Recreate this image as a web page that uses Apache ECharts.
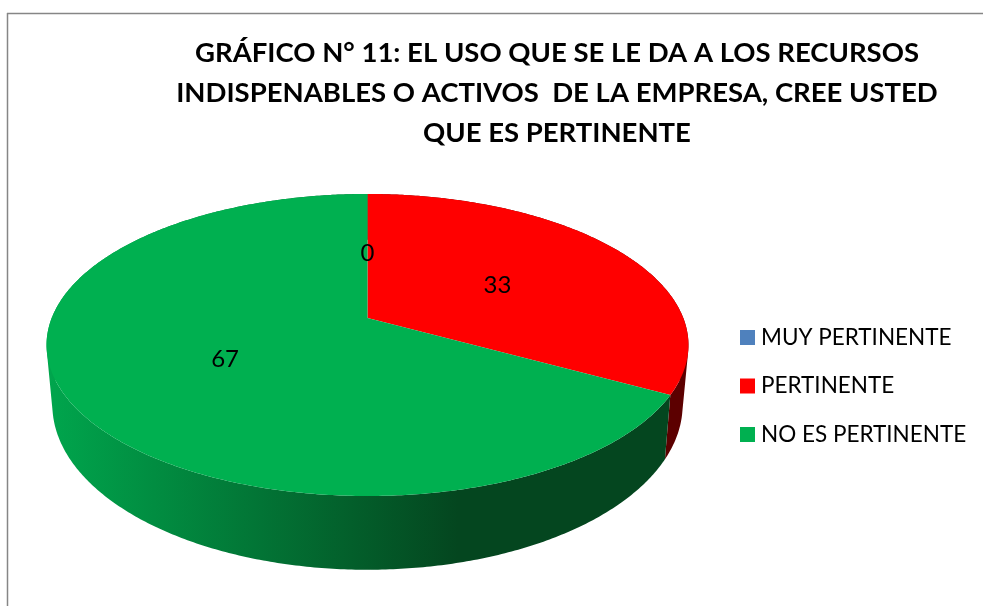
<!DOCTYPE html>
<html>
<head>
<meta charset="utf-8">
<title>Gráfico 11</title>
<style>
  html, body { margin: 0; padding: 0; background: #fff; }
  #chart { width: 983px; height: 606px; }
</style>
<script src="https://cdn.jsdelivr.net/npm/echarts@6/dist/echarts.min.js"></script>
</head>
<body>
<div id="chart"></div>
<script>
  var chartTitle = 'GRÁFICO N° 11: EL USO QUE SE LE DA A LOS RECURSOS\nINDISPENABLES O ACTIVOS  DE LA EMPRESA, CREE USTED\nQUE ES PERTINENTE';
  var categories = ['MUY PERTINENTE', 'PERTINENTE', 'NO ES PERTINENTE'];
  var values = [0, 33, 67];
  var colors = ['#4f81bd', '#ff0000', '#00b050'];
  // wall shading, left to right
  var wallColors = [
    ['#3a6190', '#24405f'],
    ['#660000', '#5c0000'],
    ['#00a64d', '#04461f']
  ];

  // the pie is drawn in perspective, so a rim point is not just a scaled circle
  var topDisc = { x: 367.5, y: 318, rx: 315.8, ry: 146.2, p: 0.1788 };
  var lowDisc = { x: 367.5, y: 375, rx: 310, ry: 159.7, p: 0.18 };
  var total = values.reduce(function (a, b) { return a + b; }, 0);

  function project(disc, angle, r) {
    var u = Math.sin(angle) * r;
    var v = Math.cos(angle) * r;
    var w = 1 + disc.p * v;
    return [disc.x + disc.rx * u / w, disc.y - disc.ry * v / w];
  }

  function rim(disc, from, to) {
    var pts = [];
    var steps = Math.max(2, Math.ceil((to - from) / 0.01));
    for (var i = 0; i <= steps; i++) {
      pts.push(project(disc, from + (to - from) * i / steps, 1));
    }
    return pts;
  }

  // the wall is a run of small quads, all wound the same way so the fold at the silhouette stays filled
  function wallPath(from, to) {
    var a = rim(topDisc, from, to);
    var b = rim(lowDisc, from, to);
    var d = '';
    for (var i = 0; i < a.length - 1; i++) {
      var q = [a[i], a[i + 1], b[i + 1], b[i]];
      var area = 0;
      for (var k = 0; k < 4; k++) {
        var n = q[(k + 1) % 4];
        area += q[k][0] * n[1] - n[0] * q[k][1];
      }
      if (area < 0) q.reverse();
      d += 'M' + q.map(function (p) { return p[0].toFixed(2) + ' ' + p[1].toFixed(2); }).join('L') + 'Z';
    }
    return d;
  }

  function renderSlice(idx) {
    return function (params, api) {
      var before = 0;
      for (var i = 0; i < idx; i++) before += values[i];
      var value = api.value(0);
      var from = before / total * Math.PI * 2;
      var to = (before + value) / total * Math.PI * 2;
      var children = [];

      if (value > 0) {
        children.push({
          type: 'path',
          z2: 1,
          shape: { pathData: wallPath(from, to) },
          style: {
            fill: new echarts.graphic.LinearGradient(0, 0, 1, 0, [
              { offset: 0, color: wallColors[idx][0] },
              { offset: 0.66, color: wallColors[idx][1] },
              { offset: 1, color: wallColors[idx][1] }
            ])
          }
        });
        children.push({
          type: 'polygon',
          z2: 2,
          shape: { points: [[topDisc.x, topDisc.y]].concat(rim(topDisc, from, to)) },
          style: { fill: colors[idx] }
        });
      }

      var mid = project(topDisc, (from + to) / 2, 0.5);
      children.push({
        type: 'text',
        z2: 3,
        style: {
          x: mid[0],
          y: mid[1] + 2.5,
          text: String(value),
          align: 'center',
          verticalAlign: 'middle',
          fill: '#000',
          font: '24px Lato'
        }
      });
      return { type: 'group', children: children };
    };
  }

  var chart = echarts.init(document.getElementById('chart'));
  chart.setOption({
    backgroundColor: '#fff',
    animation: false,
    title: {
      text: chartTitle,
      left: 552,
      top: 28,
      textAlign: 'center',
      textStyle: {
        fontFamily: 'Lato',
        fontWeight: 'bold',
        fontSize: 27.5,
        lineHeight: 40,
        color: '#000'
      }
    },
    legend: {
      orient: 'vertical',
      left: 735,
      top: 321,
      itemWidth: 15,
      itemHeight: 15,
      itemGap: 25.5,
      icon: 'rect',
      selectedMode: false,
      data: categories,
      textStyle: { fontFamily: 'Lato', fontSize: 22.5, color: '#000', padding: [0, 0, 0, 1] }
    },
    graphic: [
      { type: 'line', silent: true, shape: { x1: 7.5, y1: 13, x2: 7.5, y2: 606 }, style: { stroke: '#868686', lineWidth: 1.5 } },
      { type: 'line', silent: true, shape: { x1: 7, y1: 13.5, x2: 983, y2: 13.5 }, style: { stroke: '#868686', lineWidth: 1.5 } }
    ],
    series: categories.map(function (name, i) {
      return {
        type: 'custom',
        name: name,
        coordinateSystem: 'none',
        itemStyle: { color: colors[i] },
        renderItem: renderSlice(i),
        data: [[values[i]]]
      };
    })
  });
</script>
</body>
</html>
